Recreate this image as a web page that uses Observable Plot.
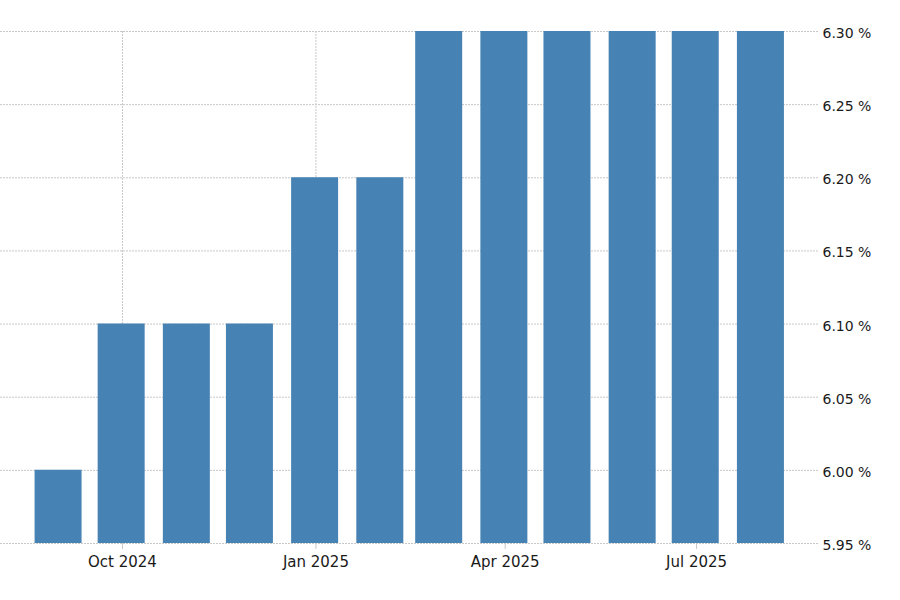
<!DOCTYPE html>
<html>
<head>
<meta charset="utf-8">
<script src="https://cdn.jsdelivr.net/npm/d3@7"></script>
<script src="https://cdn.jsdelivr.net/npm/@observablehq/plot@0.6"></script>
<style>
  html, body { margin: 0; padding: 0; background: #fff; }
  #chart svg { display: block; }
</style>
</head>
<body>
<div id="chart"></div>
<script>
const months = ["2024-09-01","2024-10-01","2024-11-01","2024-12-01","2025-01-01","2025-02-01",
                "2025-03-01","2025-04-01","2025-05-01","2025-06-01","2025-07-01","2025-08-01"];
const values = [6.00, 6.10, 6.10, 6.10, 6.20, 6.20, 6.30, 6.30, 6.30, 6.30, 6.30, 6.30];
const xTicks = ["2024-10-01","2025-01-01","2025-04-01","2025-07-01"];
const yTicks = [5.95, 6.00, 6.05, 6.10, 6.15, 6.20, 6.25, 6.30];
const xDomain = ["2024-08-04","2025-08-28"];

const data = months.map((m, i) => ({date: new Date(m), value: values[i]}));
const xTickDates = xTicks.map(d => new Date(d));

const grid = {stroke: "#c8c8c8", strokeOpacity: 1, strokeDasharray: "2,1"};

const chart = Plot.plot({
  width: 900,
  height: 600,
  marginTop: 31,
  marginBottom: 57,
  marginLeft: 0,
  marginRight: 82,
  style: {fontFamily: "DejaVu Sans, sans-serif", fontSize: "14px", background: "#fff"},
  x: {type: "utc", domain: xDomain.map(d => new Date(d)), range: [0, 818]},
  y: {domain: [5.95, 6.30]},
  marks: [
    Plot.gridY(yTicks, grid),
    Plot.gridX(xTickDates, grid),
    Plot.ruleX(data, {x: "date", y1: 5.95, y2: "value", stroke: "#4682b4", strokeWidth: 47, dx: -1.3}),
    Plot.axisY(yTicks, {anchor: "right", tickSize: 0, tickPadding: 4, label: null, dy: 2,
      tickFormat: d => d.toFixed(2) + " %", fill: "#1a1a1a"}),
    Plot.axisX(xTickDates, {anchor: "bottom", tickSize: 6, tickPadding: 7, label: null,
      stroke: "#c8c8c8", fill: "#1a1a1a", fontSize: 15, tickFormat: d3.utcFormat("%b %Y")})
  ]
});
document.getElementById("chart").appendChild(chart);
</script>
</body>
</html>
